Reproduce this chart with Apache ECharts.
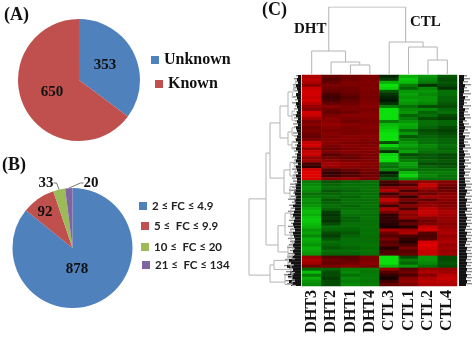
<!DOCTYPE html>
<html><head><meta charset="utf-8">
<style>html,body{margin:0;padding:0;background:#fff}#c{width:472px;height:340px}</style>
<script src="https://cdn.jsdelivr.net/npm/echarts@6/dist/echarts.min.js"></script>
</head><body><div id="c"></div>
<script>
const pieANames = ['Unknown', 'Known'];
const pieAValues = [353, 650];
const pieBNames = ['2 ≤ FC ≤ 4.9', '5 ≤  FC ≤ 9.9', '10 ≤  FC ≤ 20', '21 ≤  FC ≤ 134'];
const pieBValues = [878, 92, 33, 20];
const columns = ['DHT3', 'DHT2', 'DHT1', 'DHT4', 'CTL3', 'CTL1', 'CTL2', 'CTL4'];

const DHT3 = [.7,.75,.7,.55,.8,.85,.85,.8,.85,.75,.6,.55,.85,.8,.65,.5,.55,.45,.5,.45,.4,.5,.8,.85,.6,.8,.8,.6,.65,.3,.2,.85,.9,.9,.85,
  -.5,-.55,-.6,-.55,-.45,-.5,-.6,-.55,-.6,-.7,-.75,-.7,-.8,-.8,-.75,-.7,-.6,-.65,-.55,-.7,-.65,-.6,-.7,-.65,-.6,
  .6,.7,.65,.45,-.4,-.75,-.5,-.7,-.6,-.55];
const DHT2 = [.4,.35,.4,.5,.45,.4,.3,.25,.3,.4,.55,.45,.4,.5,.55,.55,.6,.55,.5,.55,.5,.55,.55,.5,.45,.5,.35,.45,.55,.65,.6,.35,.2,.25,.55,
  -.35,-.4,-.45,-.35,-.4,-.45,-.35,-.4,-.45,-.4,-.25,-.2,-.25,-.2,-.3,-.45,-.4,-.3,-.25,-.35,-.45,-.4,-.35,-.45,-.4,
  .35,.45,.4,.5,-.4,-.3,-.3,-.25,-.3,-.3];
const DHT1 = [.45,.45,.5,.5,.45,.45,.4,.35,.4,.45,.5,.5,.45,.55,.5,.45,.55,.5,.5,.5,.55,.55,.5,.55,.5,.55,.45,.4,.5,.6,.55,.45,.3,.35,.6,
  -.4,-.45,-.45,-.4,-.45,-.4,-.45,-.45,-.4,-.45,-.5,-.45,-.4,-.4,-.45,-.45,-.4,-.35,-.4,-.45,-.45,-.45,-.4,-.45,-.4,
  .35,.4,.45,.55,-.5,-.55,-.45,-.55,-.5,-.55];
const DHT4 = [.5,.5,.52,.5,.52,.5,.5,.48,.5,.52,.55,.5,.52,.55,.52,.5,.52,.55,.5,.52,.55,.52,.5,.52,.55,.52,.5,.5,.52,.55,.52,.5,.45,.45,.5,
  -.45,-.45,-.47,-.45,-.45,-.47,-.45,-.45,-.47,-.45,-.47,-.45,-.47,-.45,-.45,-.47,-.45,-.47,-.45,-.45,-.45,-.47,-.45,-.47,-.45,
  .5,.5,.55,.5,-.5,-.48,-.5,-.5,-.48,-.5];
const CTL3 = [-.15,-.25,-.7,-.95,-.85,-.35,-.2,-.15,-.1,-.2,-.5,-.9,-.95,-.95,-.9,-.5,-.75,-.8,-.85,-.95,-.95,-.9,-.3,-.85,-.6,-.2,-.85,-.9,-.95,-.5,-.45,-.55,-.1,-.2,-.35,
  .3,.2,.55,.7,.25,.5,.8,.6,.25,.7,.5,.2,.2,.2,.15,.1,.7,.45,.35,.5,.35,.4,.15,.3,.35,
  -.9,-.95,-.9,-.75,.6,.35,.2,.1,.25,.4];
const CTL1 = [-.7,-.8,-.75,-.5,-.4,-.6,-.65,-.6,-.65,-.6,-.45,-.55,-.6,-.4,-.5,-.6,-.7,-.65,-.45,-.6,-.35,-.5,-.6,-.65,-.55,-.65,-.3,-.4,-.5,-.65,-.6,-.45,-.75,-.85,-.6,
  .5,.3,.6,.3,.55,.2,.5,.3,.55,.3,.65,.55,.6,.25,.4,.15,.65,.7,.3,.2,.15,.3,.5,.35,.4,
  -.3,-.5,-.4,-.6,.35,.45,.3,.55,.6,.5];
const CTL2 = [-.6,-.55,-.5,-.2,-.55,-.6,-.55,-.6,-.6,-.55,-.3,-.55,-.4,-.45,-.3,-.45,-.45,-.4,-.3,-.35,-.4,-.45,-.45,-.55,-.5,-.45,-.35,-.35,-.4,-.3,-.4,-.45,-.5,-.55,-.45,
  .6,.8,.7,.5,.45,.65,.4,.55,.6,.75,.8,.75,.55,.45,.5,.8,.85,.35,.3,.35,.85,.9,.85,.8,.8,
  -.6,-.6,-.55,-.45,.6,.7,.55,.7,.75,.7];
const CTL4 = [-.35,-.3,-.35,-.3,-.2,-.45,-.45,-.4,-.4,-.35,-.3,-.4,-.45,-.3,-.25,-.4,-.4,-.3,-.25,-.3,-.35,-.4,-.4,-.45,-.4,-.45,-.3,-.3,-.35,-.3,-.35,-.45,-.5,-.45,-.45,
  .55,.5,.4,.45,.55,.6,.55,.5,.55,.6,.7,.65,.6,.6,.55,.6,.65,.7,.6,.65,.7,.6,.65,.6,.65,
  -.3,-.3,-.35,-.3,.6,.65,.75,.8,.75,.7];
const matrix = [DHT3, DHT2, DHT1, DHT4, CTL3, CTL1, CTL2, CTL4];

// sample dendrogram: [height, leftPos, leftHeight, rightPos, rightHeight]
const colLinks = [
  [67, 1.38, 23, 5.35, 32],
  [23, 0.5, 0, 2.25, 12],
  [12, 1.5, 0, 2.98, 9],
  [9, 2.5, 0, 3.5, 0],
  [32, 4.5, 0, 6.25, 27],
  [27, 5.5, 0, 6.98, 14],
  [14, 6.5, 0, 7.5, 0]
];
// gene dendrogram: [distance, topRow, topDistance, bottomRow, bottomDistance]
const rowLinks = [
  [49,41.1,32,66.4,28],[32,25.9,28,56.4,20],[28,15.9,18,34.2,14],[18,10.3,10,20.9,10],
  [10,5.6,6,13.6,6],[10,18.9,6,23.2,6],[14,31.5,8,39.2,8],[20,50,13,58.7,10],
  [13,45.8,7,53.1,7],[10,56.5,6,60.5,6],[28,63,24,68.7,13],[24,61.5,10,64.5,7],[13,66.5,6,69.5,6],
  [6,3.5,4,7.5,3],[4,1.5,2,5,2],[6,12,3,15,3],[6,17.5,3,20,3],[6,22,3,24.5,3],
  [8,29,4,33.5,4],[8,37,4,41,4],[4,27.5,2,30.5,2],[4,31.5,2,35,2],[4,36,2,38.5,2],[4,40,2,42.5,2],
  [7,44,3,47.5,3],[7,51,3,55,3],[6,55.5,3,57.5,3],[6,59.5,3,61,3],[10,60,5,63,5],[7,63,4,66,4],[6,65.5,3,68,3],[6,68.5,3,69.8,2]
];
// row-label ink lengths on each side of the heat map
const leftCore = [3,4,3,5,4,3,5,4,3,5,4,3,4,5,3,4,3,5,4,3,4,5,3,4,5,3,4,4,5,3,5,4,3,5,4,
  4,6,5,7,6,5,7,6,8,6,7,8,6,7,8,7,6,8,7,6,7,8,7,8,7,9,12,10,14,8,11,13,9,12,10];
const leftFeather = [5,7,5,8,6,7,5,8,6,9,6,7,5,8,7,6,8,7,5,8,7,6,8,6,9,7,6,9,7,8,6,9,7,8,9,
  8,11,9,12,8,10,13,9,12,10,13,11,9,12,10,13,11,12,10,13,11,12,14,11,13,14,16,13,17,12,15,17,13,16,14];
const rightCore = [5,5,4,6,5,5,4,6,5,5,4,6,5,5,6,4,5,6,5,4,6,5,5,6,4,5,6,5,6,5,6,5,6,5,6,
  6,7,6,8,7,6,8,7,7,8,6,7,8,7,8,7,6,8,7,8,7,6,8,7,8,8,7,8,7,8,7,8,7,8,7];
const rightFeather = [8,11,9,12,8,10,12,9,11,8,12,10,9,11,12,8,10,12,9,11,10,12,9,11,12,9,11,12,10,12,9,12,11,10,12,
  11,13,12,13,11,13,12,13,11,13,12,13,13,12,13,11,13,12,13,12,13,11,13,12,13,13,12,13,12,13,13,12,13,12,13];

const rowNames = DHT3.map((_, i) => 'g' + i);
const heatData = [];
matrix.forEach((col, c) => col.forEach((v, r) => heatData.push([c, r, v])));
const gap = ['-', '-'];
const colPath = [];
colLinks.forEach(([h, a, ah, b, bh]) => colPath.push([a, ah], [a, h], [b, h], [b, bh], gap));
const rowPath = [];
rowLinks.forEach(([d, a, ad, b, bd]) => rowPath.push([ad, a], [d, a], [d, b], [bd, b], gap));

const serif = '"Liberation Serif", serif';
const panelText = (text, left, top, size) => ({
  text, left, top, padding: 0,
  textStyle: { fontFamily: serif, fontWeight: 'bold', fontSize: size, color: '#111' }
});
const legendItem = (name, left, top, style, w) => ({
  data: [name], left, top, padding: 0, orient: 'horizontal',
  itemWidth: w, itemHeight: w, icon: 'rect', textStyle: style, selectedMode: false
});
const serifLegend = { fontFamily: serif, fontWeight: 'bold', fontSize: 16, color: '#111' };
const sansLegend = { fontFamily: 'Lato', fontWeight: 'bold', fontSize: 11.5, color: '#222' };
const pieLabel = { fontFamily: serif, fontWeight: 'bold', fontSize: 15, color: '#111' };
const labelSpotsA = [[105, 65], [52, 92]];
const labelSpotsB = [[77, 269], [45, 212], [46, 183], [91, 183]];
const placed = spots => p => ({ x: spots[p.dataIndex][0], y: spots[p.dataIndex][1], align: 'center', verticalAlign: 'middle' });
const hiddenVal = (o) => Object.assign({ type: 'value', show: false }, o);

const option = {
  animation: false,
  backgroundColor: '#fff',
  title: [
    panelText('(A)', 4, 6, 18), panelText('(B)', 2, 156, 18), panelText('(C)', 262, 1, 18),
    panelText('DHT', 294, 22, 15), panelText('CTL', 410, 15, 15)
  ],
  legend: [
    legendItem('Unknown', 151, 52, serifLegend, 8),
    legendItem('Known', 155, 76, serifLegend, 8),
    legendItem(pieBNames[0], 139, 200, sansLegend, 8),
    legendItem(pieBNames[1], 141, 220, sansLegend, 8),
    legendItem(pieBNames[2], 141, 241, sansLegend, 8),
    legendItem(pieBNames[3], 142, 259, sansLegend, 8)
  ],
  visualMap: { show: false, type: 'continuous', seriesIndex: 2, dimension: 2, min: -0.9, max: 0.9,
    inRange: { color: ['#0ce00c', '#000000', '#e00000'] } },
  grid: [
    { left: 302, top: 75, width: 155, height: 211 },
    { left: 302, top: 7, width: 155, height: 67 },
    { left: 249, top: 75, width: 49, height: 211 },
    { left: 283, top: 75, width: 18, height: 211 },
    { left: 459, top: 75, width: 13, height: 211 }
  ],
  xAxis: [
    { type: 'category', gridIndex: 0, data: columns, position: 'bottom',
      axisLine: { show: false }, axisTick: { show: false }, splitLine: { show: false },
      axisLabel: { interval: 0, rotate: 90, margin: 4, fontFamily: serif, fontWeight: 'bold', fontSize: 16, color: '#111' } },
    hiddenVal({ gridIndex: 1, min: 0, max: 8 }),
    hiddenVal({ gridIndex: 2, min: 0, max: 49, inverse: true }),
    hiddenVal({ gridIndex: 3, min: 0, max: 18, inverse: true }),
    hiddenVal({ gridIndex: 4, min: 0, max: 13 })
  ],
  yAxis: [
    { type: 'category', gridIndex: 0, data: rowNames, inverse: true, show: false },
    hiddenVal({ gridIndex: 1, min: 0, max: 67 }),
    hiddenVal({ gridIndex: 2, min: 0, max: 70, inverse: true }),
    { type: 'category', gridIndex: 3, data: rowNames, inverse: true, show: false },
    { type: 'category', gridIndex: 4, data: rowNames, inverse: true, show: false }
  ],
  series: [
    { type: 'pie', center: [79, 80], radius: 61, startAngle: 90, clockwise: true,
      color: ['#4F81BD', '#C0504D'],
      label: Object.assign({ position: 'inside', formatter: '{c}' }, pieLabel), labelLine: { show: false },
      labelLayout: placed(labelSpotsA), emphasis: { disabled: true },
      data: pieANames.map((name, i) => ({ name, value: pieAValues[i] })),
      itemStyle: { borderWidth: 0 } },
    { type: 'pie', center: [72.5, 248], radius: 60, startAngle: 90, clockwise: true,
      color: ['#4F81BD', '#C0504D', '#9BBB59', '#8064A2'],
      label: Object.assign({ position: 'inside' }, pieLabel),
      labelLayout: placed(labelSpotsB), emphasis: { disabled: true },
      data: pieBNames.map((name, i) => ({
        name, value: pieBValues[i],
        label: { position: i >= 2 ? 'outside' : 'inside', formatter: '{c}' },
        labelLine: { show: i >= 2, length: 3, length2: 3, lineStyle: { color: '#777', width: 1 } }
      })) },
    { type: 'heatmap', xAxisIndex: 0, yAxisIndex: 0, data: heatData, itemStyle: { borderWidth: 0 }, emphasis: { disabled: true } },
    { type: 'line', xAxisIndex: 1, yAxisIndex: 1, data: colPath, showSymbol: false, connectNulls: false,
      lineStyle: { color: '#b4b4b4', width: 1 } },
    { type: 'line', xAxisIndex: 2, yAxisIndex: 2, data: rowPath, showSymbol: false, connectNulls: false,
      lineStyle: { color: '#b4b4b4', width: 1 } },
    { type: 'bar', xAxisIndex: 3, yAxisIndex: 3, data: leftFeather, barWidth: '45%', itemStyle: { color: '#888' }, barGap: '-100%' },
    { type: 'bar', xAxisIndex: 3, yAxisIndex: 3, data: leftCore, barWidth: '100%', itemStyle: { color: '#111' }, barGap: '-100%' },
    { type: 'bar', xAxisIndex: 4, yAxisIndex: 4, data: rightFeather, barWidth: '45%', itemStyle: { color: '#888' }, barGap: '-100%' },
    { type: 'bar', xAxisIndex: 4, yAxisIndex: 4, data: rightCore, barWidth: '100%', itemStyle: { color: '#111' }, barGap: '-100%' }
  ]
};
const chart = echarts.init(document.getElementById('c'), null, { renderer: 'canvas' });
chart.setOption(option);
</script></body></html>
